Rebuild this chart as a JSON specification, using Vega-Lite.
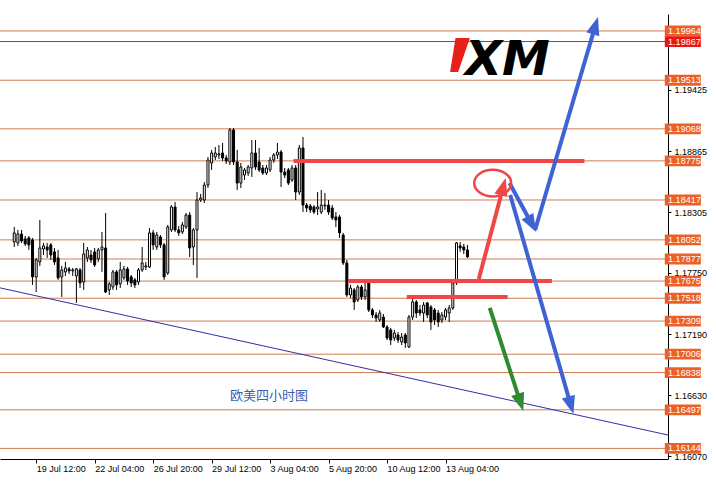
{
  "$schema": "https://vega.github.io/schema/vega-lite/v6.json",
  "width": 668,
  "height": 445,
  "autosize": {"type": "none"},
  "padding": {"left": 0, "top": 14, "right": 48, "bottom": 30},
  "background": "white",
  "config": {"view": {"stroke": null}, "font": "Liberation Sans"},
  "resolve": {"scale": {"color": "independent"}},
  "datasets": {
    "candles": [
      {"i":10,"o":1.18033,"h":1.18170,"l":1.17987,"c":1.18116},
      {"i":11,"o":1.18024,"h":1.18143,"l":1.17997,"c":1.18106},
      {"i":12,"o":1.18106,"h":1.18143,"l":1.18024,"c":1.18042},
      {"i":13,"o":1.18061,"h":1.18088,"l":1.17997,"c":1.18015},
      {"i":14,"o":1.18070,"h":1.18088,"l":1.17960,"c":1.18006},
      {"i":15,"o":1.18052,"h":1.18070,"l":1.17640,"c":1.17713},
      {"i":16,"o":1.17713,"h":1.17887,"l":1.17575,"c":1.17869},
      {"i":17,"o":1.17850,"h":1.18234,"l":1.17814,"c":1.17978},
      {"i":18,"o":1.17969,"h":1.18024,"l":1.17914,"c":1.17997},
      {"i":19,"o":1.17987,"h":1.18024,"l":1.17887,"c":1.17960},
      {"i":20,"o":1.18006,"h":1.18024,"l":1.17869,"c":1.17914},
      {"i":21,"o":1.17942,"h":1.17978,"l":1.17823,"c":1.17850},
      {"i":22,"o":1.17887,"h":1.17960,"l":1.17686,"c":1.17704},
      {"i":23,"o":1.17713,"h":1.17814,"l":1.17530,"c":1.17777},
      {"i":24,"o":1.17759,"h":1.17850,"l":1.17722,"c":1.17795},
      {"i":25,"o":1.17786,"h":1.17804,"l":1.17740,"c":1.17768},
      {"i":26,"o":1.17768,"h":1.17795,"l":1.17722,"c":1.17777},
      {"i":27,"o":1.17722,"h":1.17795,"l":1.17475,"c":1.17786},
      {"i":28,"o":1.17777,"h":1.17795,"l":1.17612,"c":1.17658},
      {"i":29,"o":1.17667,"h":1.18024,"l":1.17594,"c":1.17923},
      {"i":30,"o":1.17887,"h":1.17987,"l":1.17850,"c":1.17960},
      {"i":31,"o":1.17914,"h":1.17960,"l":1.17841,"c":1.17869},
      {"i":32,"o":1.17942,"h":1.17978,"l":1.17804,"c":1.17823},
      {"i":33,"o":1.17878,"h":1.17978,"l":1.17850,"c":1.17960},
      {"i":34,"o":1.17960,"h":1.18125,"l":1.17759,"c":1.17987},
      {"i":35,"o":1.17978,"h":1.18298,"l":1.17566,"c":1.17575},
      {"i":36,"o":1.17594,"h":1.17667,"l":1.17548,"c":1.17649},
      {"i":37,"o":1.17621,"h":1.17777,"l":1.17594,"c":1.17759},
      {"i":38,"o":1.17759,"h":1.17777,"l":1.17594,"c":1.17640},
      {"i":39,"o":1.17649,"h":1.17850,"l":1.17612,"c":1.17777},
      {"i":40,"o":1.17704,"h":1.17814,"l":1.17686,"c":1.17786},
      {"i":41,"o":1.17786,"h":1.17804,"l":1.17640,"c":1.17676},
      {"i":42,"o":1.17713,"h":1.17731,"l":1.17621,"c":1.17658},
      {"i":43,"o":1.17686,"h":1.17704,"l":1.17612,"c":1.17640},
      {"i":44,"o":1.17667,"h":1.17795,"l":1.17640,"c":1.17777},
      {"i":45,"o":1.17777,"h":1.17987,"l":1.17759,"c":1.17841},
      {"i":46,"o":1.17804,"h":1.17850,"l":1.17777,"c":1.17814},
      {"i":47,"o":1.17804,"h":1.18161,"l":1.17795,"c":1.18116},
      {"i":48,"o":1.18116,"h":1.18143,"l":1.17960,"c":1.18006},
      {"i":49,"o":1.17987,"h":1.18125,"l":1.17960,"c":1.18097},
      {"i":50,"o":1.18079,"h":1.18097,"l":1.17978,"c":1.18006},
      {"i":51,"o":1.18006,"h":1.18024,"l":1.17686,"c":1.17713},
      {"i":52,"o":1.17749,"h":1.18189,"l":1.17731,"c":1.18170},
      {"i":53,"o":1.18143,"h":1.18371,"l":1.18125,"c":1.18353},
      {"i":54,"o":1.18353,"h":1.18399,"l":1.18125,"c":1.18143},
      {"i":55,"o":1.18143,"h":1.18179,"l":1.18088,"c":1.18116},
      {"i":56,"o":1.18125,"h":1.18216,"l":1.18106,"c":1.18189},
      {"i":57,"o":1.18170,"h":1.18298,"l":1.18152,"c":1.18280},
      {"i":58,"o":1.18280,"h":1.18307,"l":1.17896,"c":1.17978},
      {"i":59,"o":1.17987,"h":1.18161,"l":1.17823,"c":1.18143},
      {"i":60,"o":1.18143,"h":1.18490,"l":1.17704,"c":1.18417},
      {"i":61,"o":1.18417,"h":1.18472,"l":1.18399,"c":1.18435},
      {"i":62,"o":1.18417,"h":1.18582,"l":1.18390,"c":1.18554},
      {"i":63,"o":1.18554,"h":1.18811,"l":1.18527,"c":1.18783},
      {"i":64,"o":1.18756,"h":1.18875,"l":1.18692,"c":1.18847},
      {"i":65,"o":1.18811,"h":1.18902,"l":1.18783,"c":1.18847},
      {"i":66,"o":1.18829,"h":1.18920,"l":1.18792,"c":1.18838},
      {"i":67,"o":1.18847,"h":1.18939,"l":1.18774,"c":1.18802},
      {"i":68,"o":1.18802,"h":1.18829,"l":1.18747,"c":1.18774},
      {"i":69,"o":1.18765,"h":1.19076,"l":1.18737,"c":1.19058},
      {"i":70,"o":1.19058,"h":1.19076,"l":1.18737,"c":1.18765},
      {"i":71,"o":1.18765,"h":1.18875,"l":1.18508,"c":1.18572},
      {"i":72,"o":1.18572,"h":1.18756,"l":1.18527,"c":1.18719},
      {"i":73,"o":1.18646,"h":1.18710,"l":1.18600,"c":1.18692},
      {"i":74,"o":1.18664,"h":1.18737,"l":1.18637,"c":1.18719},
      {"i":75,"o":1.18710,"h":1.18966,"l":1.18628,"c":1.18847},
      {"i":76,"o":1.18847,"h":1.18966,"l":1.18692,"c":1.18719},
      {"i":77,"o":1.18765,"h":1.18893,"l":1.18673,"c":1.18692},
      {"i":78,"o":1.18710,"h":1.18737,"l":1.18646,"c":1.18664},
      {"i":79,"o":1.18664,"h":1.18737,"l":1.18646,"c":1.18710},
      {"i":80,"o":1.18692,"h":1.18811,"l":1.18673,"c":1.18783},
      {"i":81,"o":1.18783,"h":1.18847,"l":1.18756,"c":1.18829},
      {"i":82,"o":1.18829,"h":1.18939,"l":1.18792,"c":1.18856},
      {"i":83,"o":1.18856,"h":1.18875,"l":1.18536,"c":1.18673},
      {"i":84,"o":1.18673,"h":1.18710,"l":1.18619,"c":1.18646},
      {"i":85,"o":1.18692,"h":1.18710,"l":1.18554,"c":1.18572},
      {"i":86,"o":1.18600,"h":1.18737,"l":1.18582,"c":1.18710},
      {"i":87,"o":1.18710,"h":1.18737,"l":1.18417,"c":1.18490},
      {"i":88,"o":1.18490,"h":1.18920,"l":1.18463,"c":1.18893},
      {"i":89,"o":1.18893,"h":1.18994,"l":1.18307,"c":1.18371},
      {"i":90,"o":1.18371,"h":1.18390,"l":1.18307,"c":1.18344},
      {"i":91,"o":1.18362,"h":1.18380,"l":1.18298,"c":1.18326},
      {"i":92,"o":1.18353,"h":1.18371,"l":1.18289,"c":1.18307},
      {"i":93,"o":1.18335,"h":1.18490,"l":1.18280,"c":1.18353},
      {"i":94,"o":1.18307,"h":1.18509,"l":1.18289,"c":1.18371},
      {"i":95,"o":1.18362,"h":1.18481,"l":1.18326,"c":1.18371},
      {"i":96,"o":1.18371,"h":1.18417,"l":1.18280,"c":1.18307},
      {"i":97,"o":1.18344,"h":1.18371,"l":1.18234,"c":1.18252},
      {"i":98,"o":1.18262,"h":1.18307,"l":1.18170,"c":1.18234},
      {"i":99,"o":1.18262,"h":1.18280,"l":1.18070,"c":1.18116},
      {"i":100,"o":1.18097,"h":1.18116,"l":1.17823,"c":1.17841},
      {"i":101,"o":1.17841,"h":1.17869,"l":1.17530,"c":1.17548},
      {"i":102,"o":1.17548,"h":1.17640,"l":1.17521,"c":1.17612},
      {"i":103,"o":1.17594,"h":1.17612,"l":1.17411,"c":1.17484},
      {"i":104,"o":1.17502,"h":1.17640,"l":1.17484,"c":1.17621},
      {"i":105,"o":1.17621,"h":1.17640,"l":1.17502,"c":1.17530},
      {"i":106,"o":1.17530,"h":1.17658,"l":1.17502,"c":1.17594},
      {"i":107,"o":1.17658,"h":1.17676,"l":1.17392,"c":1.17411},
      {"i":108,"o":1.17411,"h":1.17429,"l":1.17337,"c":1.17365},
      {"i":109,"o":1.17365,"h":1.17392,"l":1.17301,"c":1.17337},
      {"i":110,"o":1.17319,"h":1.17411,"l":1.17301,"c":1.17383},
      {"i":111,"o":1.17346,"h":1.17374,"l":1.17246,"c":1.17255},
      {"i":112,"o":1.17255,"h":1.17273,"l":1.17136,"c":1.17154},
      {"i":113,"o":1.17228,"h":1.17246,"l":1.17090,"c":1.17136},
      {"i":114,"o":1.17154,"h":1.17228,"l":1.17127,"c":1.17200},
      {"i":115,"o":1.17182,"h":1.17209,"l":1.17109,"c":1.17136},
      {"i":116,"o":1.17118,"h":1.17200,"l":1.17090,"c":1.17163},
      {"i":117,"o":1.17182,"h":1.17200,"l":1.17063,"c":1.17109},
      {"i":118,"o":1.17072,"h":1.17365,"l":1.17063,"c":1.17346},
      {"i":119,"o":1.17346,"h":1.17530,"l":1.17319,"c":1.17484},
      {"i":120,"o":1.17484,"h":1.17502,"l":1.17337,"c":1.17383},
      {"i":121,"o":1.17411,"h":1.17456,"l":1.17356,"c":1.17383},
      {"i":122,"o":1.17383,"h":1.17484,"l":1.17301,"c":1.17456},
      {"i":123,"o":1.17475,"h":1.17484,"l":1.17337,"c":1.17365},
      {"i":124,"o":1.17438,"h":1.17456,"l":1.17228,"c":1.17301},
      {"i":125,"o":1.17411,"h":1.17429,"l":1.17273,"c":1.17319},
      {"i":126,"o":1.17383,"h":1.17411,"l":1.17255,"c":1.17301},
      {"i":127,"o":1.17319,"h":1.17392,"l":1.17292,"c":1.17365},
      {"i":128,"o":1.17346,"h":1.17429,"l":1.17319,"c":1.17411},
      {"i":129,"o":1.17383,"h":1.17456,"l":1.17301,"c":1.17429},
      {"i":130,"o":1.17429,"h":1.17676,"l":1.17411,"c":1.17658},
      {"i":131,"o":1.17658,"h":1.18033,"l":1.17640,"c":1.18024},
      {"i":132,"o":1.17997,"h":1.18033,"l":1.17942,"c":1.17978},
      {"i":133,"o":1.17987,"h":1.18015,"l":1.17923,"c":1.17960},
      {"i":134,"o":1.17960,"h":1.18006,"l":1.17887,"c":1.17896}
    ],
    "levels": [
      {"p":1.19964,"t":"level"},
      {"p":1.19867,"t":"ask"},
      {"p":1.19513,"t":"level"},
      {"p":1.19068,"t":"level"},
      {"p":1.18775,"t":"level"},
      {"p":1.18417,"t":"level"},
      {"p":1.18052,"t":"level"},
      {"p":1.17877,"t":"level"},
      {"p":1.17675,"t":"level"},
      {"p":1.17518,"t":"level"},
      {"p":1.17309,"t":"level"},
      {"p":1.17006,"t":"level"},
      {"p":1.16838,"t":"level"},
      {"p":1.16497,"t":"level"},
      {"p":1.16144,"t":"level"}
    ],
    "zones": [
      {"x1":86.4,"x2":166.0,"p":1.18775},
      {"x1":101.3,"x2":157.1,"p":1.17675},
      {"x1":117.4,"x2":145.0,"p":1.1753}
    ],
    "arrows": [
      {"a":"red","x1":137.1,"y1":1.17694,"x2":143.8,"y2":1.18539,"ang":15},
      {"a":"blue","x1":145.5,"y1":1.18572,"x2":151.6,"y2":1.18197,"ang":151},
      {"a":"blue","x1":152.5,"y1":1.18143,"x2":169.0,"y2":1.20013,"ang":16.7},
      {"a":"blue","x1":145.7,"y1":1.18463,"x2":162.3,"y2":1.16538,"ang":163.7},
      {"a":"green","x1":140.1,"y1":1.17429,"x2":148.5,"y2":1.16564,"ang":161.7}
    ],
    "trend": [{"x1":0,"y1":1.17658,"x2":190,"y2":1.16258}],
    "circle": [{"x":140.9,"p":1.18572}],
    "caption": [{"x":79.7,"p":1.16624,"label":"欧美四小时图"}],
    "logo": [{"x":144.9,"p":1.19561,"label":"XM","mx":132.2,"mp":1.19744}]
  },
  "layer": [
    {
      "data": {"name": "levels"},
      "mark": {"type": "rule", "strokeWidth": 1},
      "encoding": {
        "y": {"field": "p", "type": "quantitative", "title": null,
          "scale": {"domain": [1.16047, 1.20119], "nice": false, "zero": false},
          "axis": {"orient": "right", "values": [1.19705,1.19425,1.19145,1.18865,1.18585,1.18305,1.18025,1.1775,1.1747,1.1719,1.1691,1.1663,1.1635,1.1607],
            "format": ".5f", "grid": false, "domainColor": "black", "tickColor": "black", "tickSize": 3, "labelPadding": 3,
            "labelColor": "black", "labelFontSize": 9, "labelFont": "Liberation Sans", "labelOverlap": false, "labelBound": false, "labelFlush": false}},
        "color": {"field": "t", "type": "nominal", "legend": null,
          "scale": {"domain": ["level", "ask"], "range": ["#cf7d4f", "#b8321e"]}}
      }
    },
    {
      "data": {"name": "trend"},
      "mark": {"type": "rule", "color": "#2f2fa8", "strokeWidth": 1, "clip": true},
      "encoding": {
        "x": {"field": "x1", "type": "quantitative", "title": null, "scale": {"domain": [7.47, 187.5], "nice": false, "zero": false},
          "axis": {"values": [0,16,32,48,64,80,96,112,128],
            "labelExpr": "['15 Jul 20:00','19 Jul 12:00','22 Jul 04:00','26 Jul 20:00','29 Jul 12:00','3 Aug 04:00','5 Aug 20:00','10 Aug 12:00','13 Aug 04:00'][round(datum.value/16)]",
            "labelAlign": "left", "labelDx": 2, "tickSize": 4, "labelPadding": 1, "grid": false,
            "domainColor": "black", "tickColor": "black", "labelColor": "black", "labelFontSize": 9, "labelFont": "Liberation Sans",
            "labelOverlap": false, "labelFlush": false, "labelBound": false}},
        "x2": {"field": "x2"},
        "y": {"field": "y1", "type": "quantitative", "title": null, "scale": {"domain": [1.16047, 1.20119], "nice": false, "zero": false}},
        "y2": {"field": "y2"}
      }
    },
    {
      "data": {"name": "candles"},
      "mark": {"type": "rule", "color": "black", "strokeWidth": 1},
      "encoding": {
        "x": {"field": "i", "type": "quantitative", "title": null, "scale": {"domain": [7.47, 187.5], "nice": false, "zero": false}},
        "y": {"field": "l", "type": "quantitative", "title": null, "scale": {"domain": [1.16047, 1.20119], "nice": false, "zero": false}},
        "y2": {"field": "h"}
      }
    },
    {
      "data": {"name": "candles"},
      "mark": {"type": "bar", "size": 2, "stroke": "black", "strokeWidth": 1},
      "encoding": {
        "x": {"field": "i", "type": "quantitative", "title": null, "scale": {"domain": [7.47, 187.5], "nice": false, "zero": false}},
        "y": {"field": "o", "type": "quantitative", "title": null, "scale": {"domain": [1.16047, 1.20119], "nice": false, "zero": false}},
        "y2": {"field": "c"},
        "fill": {"condition": {"test": "datum.c >= datum.o", "value": "white"}, "value": "black"}
      }
    },
    {
      "data": {"name": "zones"},
      "mark": {"type": "rule", "color": "#f04646", "strokeWidth": 4},
      "encoding": {
        "x": {"field": "x1", "type": "quantitative", "title": null, "scale": {"domain": [7.47, 187.5], "nice": false, "zero": false}},
        "x2": {"field": "x2"},
        "y": {"field": "p", "type": "quantitative", "title": null, "scale": {"domain": [1.16047, 1.20119], "nice": false, "zero": false}}
      }
    },
    {
      "data": {"name": "arrows"},
      "mark": {"type": "rule", "strokeWidth": 4},
      "encoding": {
        "x": {"field": "x1", "type": "quantitative", "title": null, "scale": {"domain": [7.47, 187.5], "nice": false, "zero": false}},
        "x2": {"field": "x2"},
        "y": {"field": "y1", "type": "quantitative", "title": null, "scale": {"domain": [1.16047, 1.20119], "nice": false, "zero": false}},
        "y2": {"field": "y2"},
        "color": {"field": "a", "type": "nominal", "legend": null, "scale": {"domain": ["red", "blue", "green"], "range": ["#f04646", "#3f63d4", "#2f8a32"]}}
      }
    },
    {
      "data": {"name": "arrows"},
      "mark": {"type": "point", "filled": true, "opacity": 1, "size": 324, "shape": "M0,-1L0.75,1L-0.75,1Z"},
      "encoding": {
        "x": {"field": "x2", "type": "quantitative", "title": null, "scale": {"domain": [7.47, 187.5], "nice": false, "zero": false}},
        "y": {"field": "y2", "type": "quantitative", "title": null, "scale": {"domain": [1.16047, 1.20119], "nice": false, "zero": false}},
        "angle": {"field": "ang", "type": "quantitative", "scale": null},
        "color": {"field": "a", "type": "nominal", "legend": null, "scale": {"domain": ["red", "blue", "green"], "range": ["#f04646", "#3f63d4", "#2f8a32"]}}
      }
    },
    {
      "data": {"name": "circle"},
      "mark": {"type": "point", "filled": false, "opacity": 1, "size": 1369, "stroke": "#f04646", "strokeWidth": 2.5, "shape": "M-1,0A1,0.72,0,1,1,1,0A1,0.72,0,1,1,-1,0Z"},
      "encoding": {
        "x": {"field": "x", "type": "quantitative", "title": null, "scale": {"domain": [7.47, 187.5], "nice": false, "zero": false}},
        "y": {"field": "p", "type": "quantitative", "title": null, "scale": {"domain": [1.16047, 1.20119], "nice": false, "zero": false}}
      }
    },
    {
      "data": {"name": "caption"},
      "mark": {"type": "text", "font": "Noto Sans CJK SC", "fontSize": 13, "color": "#3b5fb4", "align": "center", "baseline": "middle"},
      "encoding": {
        "x": {"field": "x", "type": "quantitative", "title": null, "scale": {"domain": [7.47, 187.5], "nice": false, "zero": false}},
        "y": {"field": "p", "type": "quantitative", "title": null, "scale": {"domain": [1.16047, 1.20119], "nice": false, "zero": false}},
        "text": {"field": "label"}
      }
    },
    {
      "data": {"name": "logo"},
      "mark": {"type": "point", "filled": true, "opacity": 1, "size": 1296, "color": "#e8201c", "shape": "M-0.3,-0.944L0.5,-0.944L-0.15,0.944L-0.6,0.944Z"},
      "encoding": {
        "x": {"field": "mx", "type": "quantitative", "title": null, "scale": {"domain": [7.47, 187.5], "nice": false, "zero": false}},
        "y": {"field": "mp", "type": "quantitative", "title": null, "scale": {"domain": [1.16047, 1.20119], "nice": false, "zero": false}}
      }
    },
    {
      "data": {"name": "logo"},
      "mark": {"type": "text", "font": "DejaVu Sans", "fontSize": 48, "fontWeight": "bold", "fontStyle": "italic", "color": "black", "align": "center", "baseline": "alphabetic"},
      "encoding": {
        "x": {"field": "x", "type": "quantitative", "title": null, "scale": {"domain": [7.47, 187.5], "nice": false, "zero": false}},
        "y": {"field": "p", "type": "quantitative", "title": null, "scale": {"domain": [1.16047, 1.20119], "nice": false, "zero": false}},
        "text": {"field": "label"}
      }
    },
    {
      "data": {"name": "levels"},
      "mark": {"type": "point", "filled": true, "opacity": 1, "size": 1296, "shape": "M-1,-0.3L1,-0.3L1,0.3L-1,0.3Z"},
      "encoding": {
        "x": {"datum": 192.92, "type": "quantitative", "title": null, "scale": {"domain": [7.47, 187.5], "nice": false, "zero": false}},
        "y": {"field": "p", "type": "quantitative", "title": null, "scale": {"domain": [1.16047, 1.20119], "nice": false, "zero": false}},
        "color": {"field": "t", "type": "nominal", "legend": null, "scale": {"domain": ["level", "ask"], "range": ["#ec5f26", "#ee1414"]}}
      }
    },
    {
      "data": {"name": "levels"},
      "mark": {"type": "text", "font": "Liberation Sans", "fontSize": 9, "color": "white", "align": "left", "baseline": "middle"},
      "encoding": {
        "x": {"datum": 188.9, "type": "quantitative", "title": null, "scale": {"domain": [7.47, 187.5], "nice": false, "zero": false}},
        "y": {"field": "p", "type": "quantitative", "title": null, "scale": {"domain": [1.16047, 1.20119], "nice": false, "zero": false}},
        "text": {"field": "p", "type": "quantitative", "format": ".5f"}
      }
    }
  ]
}
